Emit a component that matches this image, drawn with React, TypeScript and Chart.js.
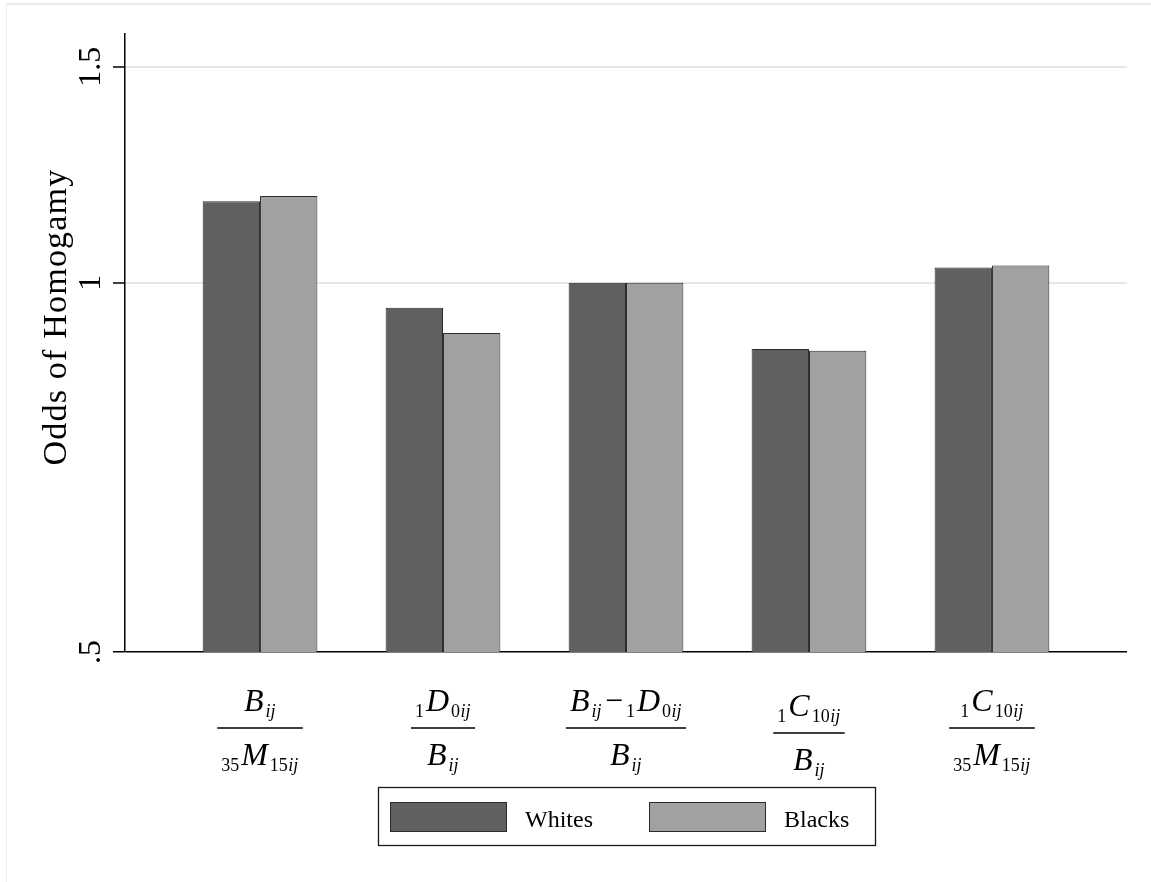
import React, { useEffect, useRef } from 'react';
import { Chart, registerables } from 'chart.js';

Chart.register(...registerables);

// ---------------- data ----------------
type Tok = [string, string]; // [kind, text]  V: italic variable, o: operator, d: upright sub, v: italic sub
const CATEGORY_NAMES = [
  'B_ij / 35M15_ij',
  '1D0_ij / B_ij',
  '(B_ij − 1D0_ij) / B_ij',
  '1C10_ij / B_ij',
  '1C10_ij / 35M15_ij',
];
const CATEGORY_LABELS: { num: Tok[]; den: Tok[] }[] = [
  { num: [['V', 'B'], ['v', 'ij']], den: [['d', '35'], ['V', 'M'], ['d', '15'], ['v', 'ij']] },
  { num: [['d', '1'], ['V', 'D'], ['d', '0'], ['v', 'ij']], den: [['V', 'B'], ['v', 'ij']] },
  {
    num: [['V', 'B'], ['v', 'ij'], ['o', '\u2212'], ['d', '1'], ['V', 'D'], ['d', '0'], ['v', 'ij']],
    den: [['V', 'B'], ['v', 'ij']],
  },
  { num: [['d', '1'], ['V', 'C'], ['d', '10'], ['v', 'ij']], den: [['V', 'B'], ['v', 'ij']] },
  { num: [['d', '1'], ['V', 'C'], ['d', '10'], ['v', 'ij']], den: [['d', '35'], ['V', 'M'], ['d', '15'], ['v', 'ij']] },
];
const SERIES_LABELS = ['Whites', 'Blacks'];
const WHITES = [1.165, 0.954, 1.0, 0.883, 1.029];
const BLACKS = [1.177, 0.91, 1.0, 0.88, 1.033];
const Y_TICKS = [0.5, 1, 1.5];
const Y_TICK_LABELS = ['.5', '1', '1.5'];
const Y_TITLE = 'Odds of Homogamy';

// ---------------- style ----------------
const FONT = '"Liberation Serif", "Times New Roman", serif';
const COLORS = ['#606060', '#a1a1a1'];
const LABEL_SHIFT = [0, 0, 0, 5, 0];

function tokFont(kind: string) {
  switch (kind) {
    case 'V':
      return `italic 32px ${FONT}`;
    case 'o':
      return `32px ${FONT}`;
    case 'v':
      return `italic 18px ${FONT}`;
    default:
      return `18px ${FONT}`;
  }
}
function tokPad(kind: string, next?: string) {
  if (kind === 'V') return 2;
  if (kind === 'o') return 3;
  if (kind === 'd' && next === 'V') return 2;
  return 0.5;
}
function rowWidth(ctx: CanvasRenderingContext2D, toks: Tok[]) {
  let w = 0;
  toks.forEach(([k, t], i) => {
    if (k === 'o') w += 3;
    ctx.font = tokFont(k);
    w += ctx.measureText(t).width + tokPad(k, toks[i + 1] ? toks[i + 1][0] : undefined);
  });
  return w;
}
function drawRow(ctx: CanvasRenderingContext2D, toks: Tok[], cx: number, base: number) {
  let x = cx - rowWidth(ctx, toks) / 2;
  toks.forEach(([k, t], i) => {
    if (k === 'o') x += 3;
    ctx.font = tokFont(k);
    const small = k === 'd' || k === 'v';
    ctx.fillText(t, x, small ? base + 6 : base);
    x += ctx.measureText(t).width + tokPad(k, toks[i + 1] ? toks[i + 1][0] : undefined);
  });
}
function drawFraction(ctx: CanvasRenderingContext2D, lab: { num: Tok[]; den: Tok[] }, cx: number, ly: number) {
  const w = Math.max(rowWidth(ctx, lab.num), rowWidth(ctx, lab.den)) + 8;
  ctx.fillRect(cx - w / 2, ly - 0.75, w, 1.5);
  ctx.textAlign = 'left';
  ctx.textBaseline = 'alphabetic';
  drawRow(ctx, lab.num, cx, ly - 17);
  drawRow(ctx, lab.den, cx, ly + 37);
}

const drawPlugin = {
  id: 'customDraw',
  afterDraw(chart: any) {
    const ctx: CanvasRenderingContext2D = chart.ctx;
    const area = chart.chartArea;
    const xs = chart.scales.x;
    const ys = chart.scales.y;
    ctx.save();
    ctx.fillStyle = '#000';
    ctx.textBaseline = 'alphabetic';
    ctx.textAlign = 'center';

    // y tick labels (rotated)
    ctx.font = `32px ${FONT}`;
    Y_TICKS.forEach((v, i) => {
      const y = ys.getPixelForValue(v);
      ctx.save();
      ctx.translate(area.left - 25, y);
      ctx.rotate(-Math.PI / 2);
      ctx.fillText(Y_TICK_LABELS[i], 0, 0);
      ctx.restore();
    });

    // y title
    ctx.save();
    ctx.font = `34px ${FONT}`;
    (ctx as any).letterSpacing = '1.2px';
    ctx.translate(66, 317);
    ctx.rotate(-Math.PI / 2);
    ctx.fillText(Y_TITLE, 0, 0);
    ctx.restore();

    // category labels (fractions)
    CATEGORY_LABELS.forEach((lab, i) => {
      const cx = xs.getPixelForValue(i);
      drawFraction(ctx, lab, cx, area.bottom + 76 + LABEL_SHIFT[i]);
    });

    // legend
    const lw = 497;
    const lh = 58;
    const lx = Math.round((area.left + area.right) / 2 - lw / 2);
    const lt = area.bottom + 135;
    ctx.strokeStyle = '#1a1a1a';
    ctx.lineWidth = 1.3;
    ctx.strokeRect(lx + 0.5, lt + 0.5, lw, lh);
    ctx.font = `24px ${FONT}`;
    ctx.textAlign = 'left';
    chart.data.datasets.forEach((ds: any, i: number) => {
      const sx = lx + 12 + i * 259;
      const sy = lt + 15;
      ctx.fillStyle = ds.backgroundColor;
      ctx.fillRect(sx, sy, 117, 30);
      ctx.strokeStyle = '#2b2b2b';
      ctx.lineWidth = 1;
      ctx.strokeRect(sx + 0.5, sy + 0.5, 116, 29);
      ctx.fillStyle = '#000';
      ctx.fillText(ds.label, sx + 117 + 18, lt + 40);
    });
    ctx.restore();
  },
};

export default function App() {
  const ref = useRef<HTMLCanvasElement>(null);
  useEffect(() => {
    const chart = new Chart(ref.current as HTMLCanvasElement, {
      type: 'bar',
      data: {
        datasets: [WHITES, BLACKS].map((vals, s) => ({
          label: SERIES_LABELS[s],
          data: vals.map((v, i) => ({ x: i, y: v })),
          backgroundColor: COLORS[s],
          borderColor: '#2b2b2b',
          borderWidth: 1,
          categoryPercentage: 0.627,
          barPercentage: 1,
        })),
      },
      options: {
        animation: false,
        responsive: false,
        devicePixelRatio: 1,
        layout: { padding: { left: 0, top: 34, right: 24, bottom: 230 } },
        plugins: { legend: { display: false }, tooltip: { enabled: false }, title: { display: false } },
        scales: {
          x: {
            type: 'linear',
            display: false,
            offset: false,
            min: -0.738,
            max: CATEGORY_NAMES.length - 1 + 0.738,
            afterBuildTicks: (s: any) => {
              s.ticks = CATEGORY_NAMES.map((_, i) => ({ value: i }));
            },
          },
          y: {
            type: 'logarithmic',
            position: 'left',
            min: 0.5,
            max: 1.595,
            afterBuildTicks: (s: any) => {
              s.ticks = Y_TICKS.map((v) => ({ value: v }));
            },
            afterFit: (s: any) => {
              s.width = 125;
            },
            ticks: { display: false },
            grid: {
              color: (c: any) => (c.tick && c.tick.value === Y_TICKS[0] ? '#000' : '#e6e6e6'),
              lineWidth: (c: any) => (c.tick && c.tick.value === Y_TICKS[0] ? 1.5 : 2),
              tickColor: '#000',
              tickLength: 12,
              tickWidth: 1.5,
              drawTicks: true,
            },
            border: { display: true, color: '#000', width: 1.5 },
          },
        },
      } as any,
      plugins: [drawPlugin],
    });
    return () => chart.destroy();
  }, []);

  return (
    <div style={{ position: 'absolute', left: 0, top: 0, width: 1151, height: 882, background: '#fff', overflow: 'hidden' }}>
      <div
        style={{
          position: 'absolute',
          left: 6,
          top: 3,
          right: -10,
          bottom: -10,
          borderTop: '2px solid #ebebeb',
          borderLeft: '1px solid #efefef',
        }}
      />
      <canvas ref={ref} width={1151} height={882} style={{ position: 'absolute', left: 0, top: 0 }} />
    </div>
  );
}
